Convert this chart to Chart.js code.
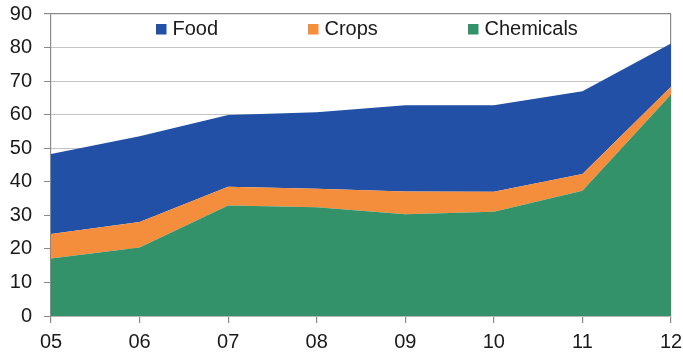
<!DOCTYPE html>
<html>
<head>
<meta charset="utf-8">
<script src="https://cdn.jsdelivr.net/npm/chart.js@4/dist/chart.umd.min.js"></script>
<style>
html,body{margin:0;padding:0;background:#fff;}
#wrap{width:683px;height:352px;}
</style>
</head>
<body>
<div id="wrap"><canvas id="c" width="683" height="352"></canvas></div>
<script>
const categories = ["05","06","07","08","09","10","11","12"];
const chemicals = [17.1, 20.4, 32.9, 32.4, 30.3, 31.1, 37.3, 66.0];
const crops     = [7.3, 7.6, 5.6, 5.5, 6.8, 5.9, 5.0, 2.3];
const food      = [23.9, 25.6, 21.4, 22.8, 25.7, 25.8, 24.7, 12.9];
const yTicks = [0,10,20,30,40,50,60,70,80,90];

const COL_FOOD = '#2150A6', COL_CROPS = '#F48D3C', COL_CHEM = '#33926A';
const AXIS = '#8a8a8a', GRID = '#c4c4c4', TEXT = '#1a1a1a';
const FONT = {family: '"Liberation Sans", Arial, sans-serif', size: 20};

const legendItems = [
  {label: 'Food', color: COL_FOOD, x: 156},
  {label: 'Crops', color: COL_CROPS, x: 308},
  {label: 'Chemicals', color: COL_CHEM, x: 468}
];

const legendPlugin = {
  id: 'insideLegend',
  afterDraw(chart) {
    const ctx = chart.ctx;
    ctx.save();
    ctx.font = FONT.size + 'px ' + FONT.family;
    ctx.textBaseline = 'middle';
    ctx.textAlign = 'left';
    legendItems.forEach(it => {
      ctx.fillStyle = it.color;
      ctx.fillRect(it.x, 24, 10.5, 10.5);
      ctx.fillStyle = TEXT;
      ctx.fillText(it.label, it.x + 16.5, 29.5);
    });
    ctx.restore();
  }
};

new Chart(document.getElementById('c'), {
  type: 'line',
  data: {
    labels: categories,
    datasets: [
      {label: 'Chemicals', data: chemicals, backgroundColor: COL_CHEM, borderColor: COL_CHEM, fill: 'origin', borderWidth: 0, pointRadius: 0, tension: 0},
      {label: 'Crops', data: crops, backgroundColor: COL_CROPS, borderColor: COL_CROPS, fill: '-1', borderWidth: 0, pointRadius: 0, tension: 0},
      {label: 'Food', data: food, backgroundColor: COL_FOOD, borderColor: COL_FOOD, fill: '-1', borderWidth: 0, pointRadius: 0, tension: 0}
    ]
  },
  options: {
    responsive: false,
    animation: false,
    devicePixelRatio: 1,
    layout: {padding: {top: 14, right: 12, left: 0, bottom: 0}},
    plugins: {legend: {display: false}, tooltip: {enabled: false}},
    scales: {
      x: {
        type: 'category',
        offset: false,
        grid: {
          drawOnChartArea: true,
          color: c => (c.index === categories.length - 1 ? AXIS : 'rgba(0,0,0,0)'),
          tickColor: AXIS,
          tickLength: 7,
          lineWidth: 1.2
        },
        border: {color: AXIS, width: 1.2},
        ticks: {font: FONT, color: TEXT, padding: 7, maxRotation: 0, autoSkip: false},
        afterFit: s => { s.height = 36; s.paddingLeft = 0; s.paddingRight = 0; }
      },
      y: {
        stacked: true,
        min: 0,
        max: 90,
        afterBuildTicks: s => { s.ticks = yTicks.map(v => ({value: v})); },
        grid: {
          color: c => (c.tick && c.tick.value === 90 ? AXIS : GRID),
          tickColor: AXIS,
          tickLength: 7,
          lineWidth: c => (c.tick && c.tick.value === 90 ? 1.2 : 1)
        },
        border: {color: AXIS, width: 1.2},
        ticks: {font: FONT, color: TEXT, padding: 12},
        afterFit: s => { s.width = 51; s.paddingTop = 0; s.paddingBottom = 0; }
      }
    }
  },
  plugins: [legendPlugin]
});
</script>
</body>
</html>
